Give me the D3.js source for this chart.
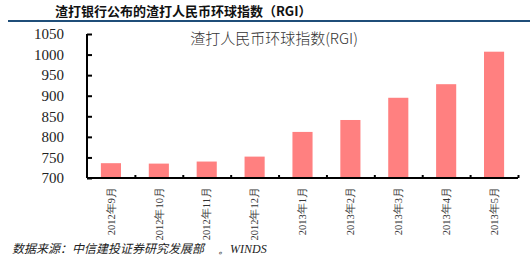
<!DOCTYPE html>
<html>
<head>
<meta charset="utf-8">
<script src="https://cdn.jsdelivr.net/npm/d3@7"></script>
<style>
  body { margin: 0; background: #fff; }
  #chart { width: 530px; height: 260px; }
  .serif { font-family: "Liberation Serif", "Times New Roman", "DejaVu Serif", serif; }
</style>
</head>
<body>
<div id="chart"></div>
<script>
var months = ["2012年9月", "2012年10月", "2012年11月", "2012年12月", "2013年1月",
    "2013年2月", "2013年3月", "2013年4月", "2013年5月"];
var rgiValues = [736, 735, 740, 752, 812, 841, 895, 928, 1007];
var yTicks = [700, 750, 800, 850, 900, 950, 1000, 1050];

var width = 530, height = 260;
var padding = { left: 87, right: 12, top: 34, bottom: 82 };
var plotWidth = width - padding.left - padding.right;
var plotHeight = height - padding.top - padding.bottom;

var svg = d3.select("#chart")
    .append("svg")
    .attr("width", width)
    .attr("height", height);

// header
svg.append("text")
    .attr("x", 55)
    .attr("y", 16)
    .attr("font-family", "Noto Sans CJK SC")
    .attr("font-weight", "bold")
    .attr("font-size", 13)
    .attr("fill", "#111")
    .text("渣打银行公布的渣打人民币环球指数（RGI）");

svg.append("line")
    .attr("x1", 8).attr("x2", 530)
    .attr("y1", 21).attr("y2", 21)
    .attr("stroke", "#1f4e79")
    .attr("stroke-width", 2);

var x = d3.scaleBand()
    .domain(months)
    .range([0, plotWidth])
    .paddingInner(0.58)
    .paddingOuter(0.29);

var y = d3.scaleLinear()
    .domain([700, 1050])
    .range([plotHeight, 0]);

var g = svg.append("g")
    .attr("transform", "translate(" + padding.left + "," + padding.top + ")");

g.selectAll("rect")
    .data(rgiValues)
    .enter()
    .append("rect")
    .attr("x", function (d, i) { return x(months[i]); })
    .attr("y", function (d) { return y(d); })
    .attr("width", x.bandwidth())
    .attr("height", function (d) { return plotHeight - y(d); })
    .attr("fill", "#ff8080");

// chart title
svg.append("text")
    .attr("x", 274)
    .attr("y", 44)
    .attr("text-anchor", "middle")
    .attr("font-family", "Noto Sans CJK SC")
    .attr("font-weight", 300)
    .attr("font-size", 15)
    .attr("fill", "#333")
    .text("渣打人民币环球指数(RGI)");

// y axis
var yAxis = d3.axisLeft(y)
    .tickValues(yTicks)
    .tickFormat(d3.format("d"))
    .tickSize(-5)
    .tickPadding(23);
var yg = g.append("g").call(yAxis).attr("font-family", null);
yg.select(".domain").attr("stroke-width", 2).attr("d", "M0," + plotHeight + "V0");
yg.selectAll(".tick line").attr("stroke-width", 2);
yg.selectAll("text")
    .attr("class", "serif")
    .attr("font-size", 15)
    .attr("fill", "#222");

// x axis: category labels
var xAxis = d3.axisBottom(x).tickSize(0).tickPadding(0);
var xg = g.append("g")
    .attr("transform", "translate(0," + plotHeight + ")")
    .call(xAxis)
    .attr("font-family", null);
xg.select(".domain").remove();
xg.selectAll("text")
    .attr("class", "serif")
    .attr("transform", "rotate(-90)")
    .attr("x", -9)
    .attr("y", 0)
    .attr("dy", "0.35em")
    .attr("text-anchor", "end")
    .attr("font-size", 10.5)
    .attr("fill", "#333");

// x axis: boundary ticks
var xEdge = d3.scaleLinear().domain([0, months.length]).range([0, plotWidth]);
var xg2 = g.append("g")
    .attr("transform", "translate(0," + plotHeight + ")")
    .call(d3.axisBottom(xEdge).tickValues(d3.range(1, months.length + 1)).tickSize(-3).tickFormat(""));
xg2.select(".domain").attr("stroke-width", 2).attr("d", "M0,0H" + plotWidth);
xg2.selectAll(".tick line").attr("stroke-width", 2);

// source
svg.append("text")
    .attr("x", 12)
    .attr("y", 253)
    .attr("font-family", "Noto Sans CJK SC")
    .attr("font-style", "italic")
    .attr("font-size", 12)
    .attr("fill", "#222")
    .text("数据来源：中信建投证券研究发展部 ");
svg.append("text")
    .attr("x", 218)
    .attr("y", 253)
    .attr("class", "serif")
    .attr("font-style", "italic")
    .attr("font-size", 12)
    .attr("fill", "#222")
    .text("。WINDS");
</script>
</body>
</html>
